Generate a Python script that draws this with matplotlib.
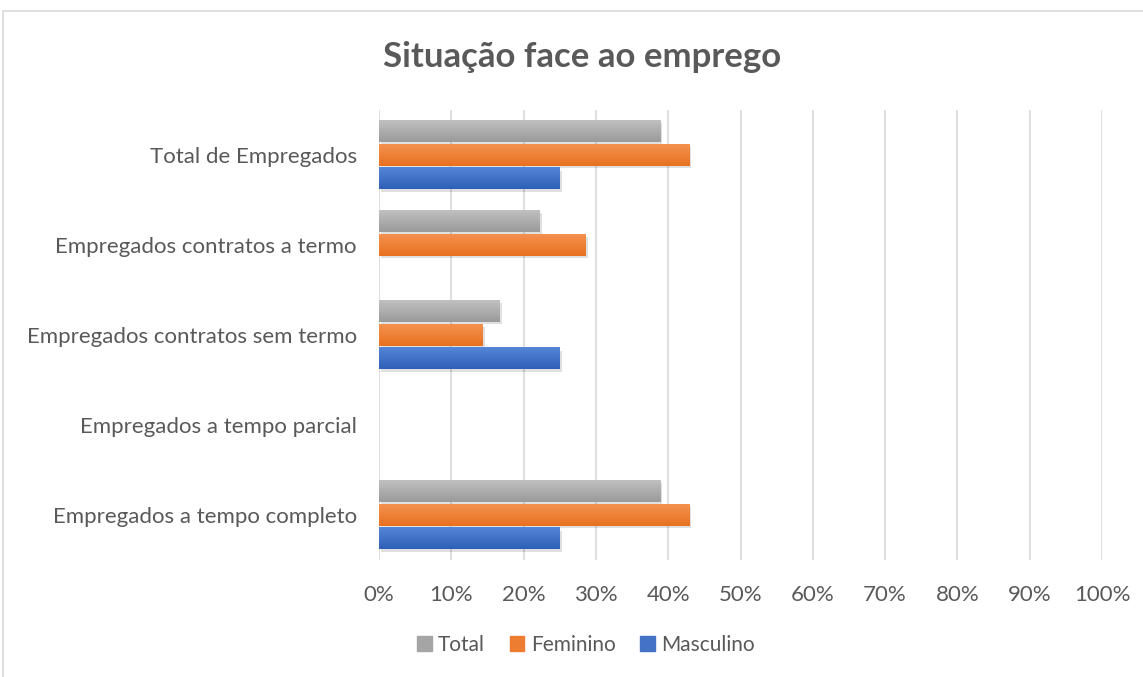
"""
Situação face ao emprego - grouped horizontal bars
"""

import numpy as np
import matplotlib.pyplot as plt
from matplotlib.patches import Rectangle
from matplotlib.colors import LinearSegmentedColormap
from matplotlib.ticker import PercentFormatter

categories = [
    "Empregados a tempo completo",
    "Empregados a tempo parcial",
    "Empregados contratos sem termo",
    "Empregados contratos a termo",
    "Total de Empregados",
]
total = [38.9, 0, 16.7, 22.2, 38.9]
feminino = [42.9, 0, 14.3, 28.6, 42.9]
masculino = [25.0, 0, 25.0, 0, 25.0]

series = [
    ("Total", total, "#C0C0C0", "#9A9A9A", "#A5A5A5"),
    ("Feminino", feminino, "#F4914F", "#E8711F", "#ED7D31"),
    ("Masculino", masculino, "#5485D6", "#2F60B8", "#4472C4"),
]

plt.rcParams["font.family"] = ["Lato", "DejaVu Sans"]
text_col = "#595959"

fig = plt.figure(figsize=(11.43, 6.77), dpi=100)
ax = fig.add_axes([379 / 1143, 1 - 560 / 677, 723 / 1143, 450 / 677])

# chart frame
fig.patches.append(Rectangle((3 / 1143, -0.1), 1.2, 1 - 11 / 677 + 0.1,
                             transform=fig.transFigure, fill=False,
                             edgecolor="#D9D9D9", linewidth=1.2))

y = np.arange(len(categories))
h = 0.235
offsets = [0.265, 0, -0.265]

handles = []
for (name, vals, light, dark, solid), off in zip(series, offsets):
    bars = ax.barh(y + off, vals, height=h, color=dark, label=name, zorder=3)
    cmap = LinearSegmentedColormap.from_list(name, [dark, light])
    for b in bars:
        w = b.get_width()
        if w <= 0:
            continue
        x0, y0, hh = b.get_x(), b.get_y(), b.get_height()
        # soft shadow
        ax.add_patch(Rectangle((x0 + 0.3, y0 - 0.03), w, hh, color="#000000",
                               alpha=0.12, lw=0, zorder=2))
        grad = np.linspace(0, 1, 50).reshape(-1, 1)
        ax.imshow(grad, extent=(x0, x0 + w, y0, y0 + hh), cmap=cmap,
                  aspect="auto", origin="lower", zorder=3.5)
    handles.append(Rectangle((0, 0), 1, 1, color=solid))

ax.set_xlim(0, 100)
ax.set_ylim(-0.5, len(categories) - 0.5)
ax.set_xticks(np.arange(0, 101, 10))
ax.xaxis.set_major_formatter(PercentFormatter(decimals=0))
ax.set_yticks(y)
ax.set_yticklabels(categories)
ax.tick_params(axis="both", length=0, labelsize=16, colors=text_col)
ax.tick_params(axis="x", pad=18)
ax.tick_params(axis="y", pad=16)
ax.grid(axis="x", color="#D9D9D9", linewidth=1.2, zorder=0)
for s in ax.spines.values():
    s.set_visible(False)

fig.text(582 / 1143, 1 - 57 / 677, "Situação face ao emprego", ha="center",
         va="center", fontsize=25, fontweight="bold", color=text_col)

fig.legend(handles, [s[0] for s in series], loc="center",
           bbox_to_anchor=(586 / 1143, 1 - 645 / 677), ncol=3, frameon=False,
           fontsize=15, labelcolor=text_col, handlelength=0.7, handleheight=0.7,
           handletextpad=0.3, columnspacing=1.2)

plt.savefig("out.png", dpi=100)
